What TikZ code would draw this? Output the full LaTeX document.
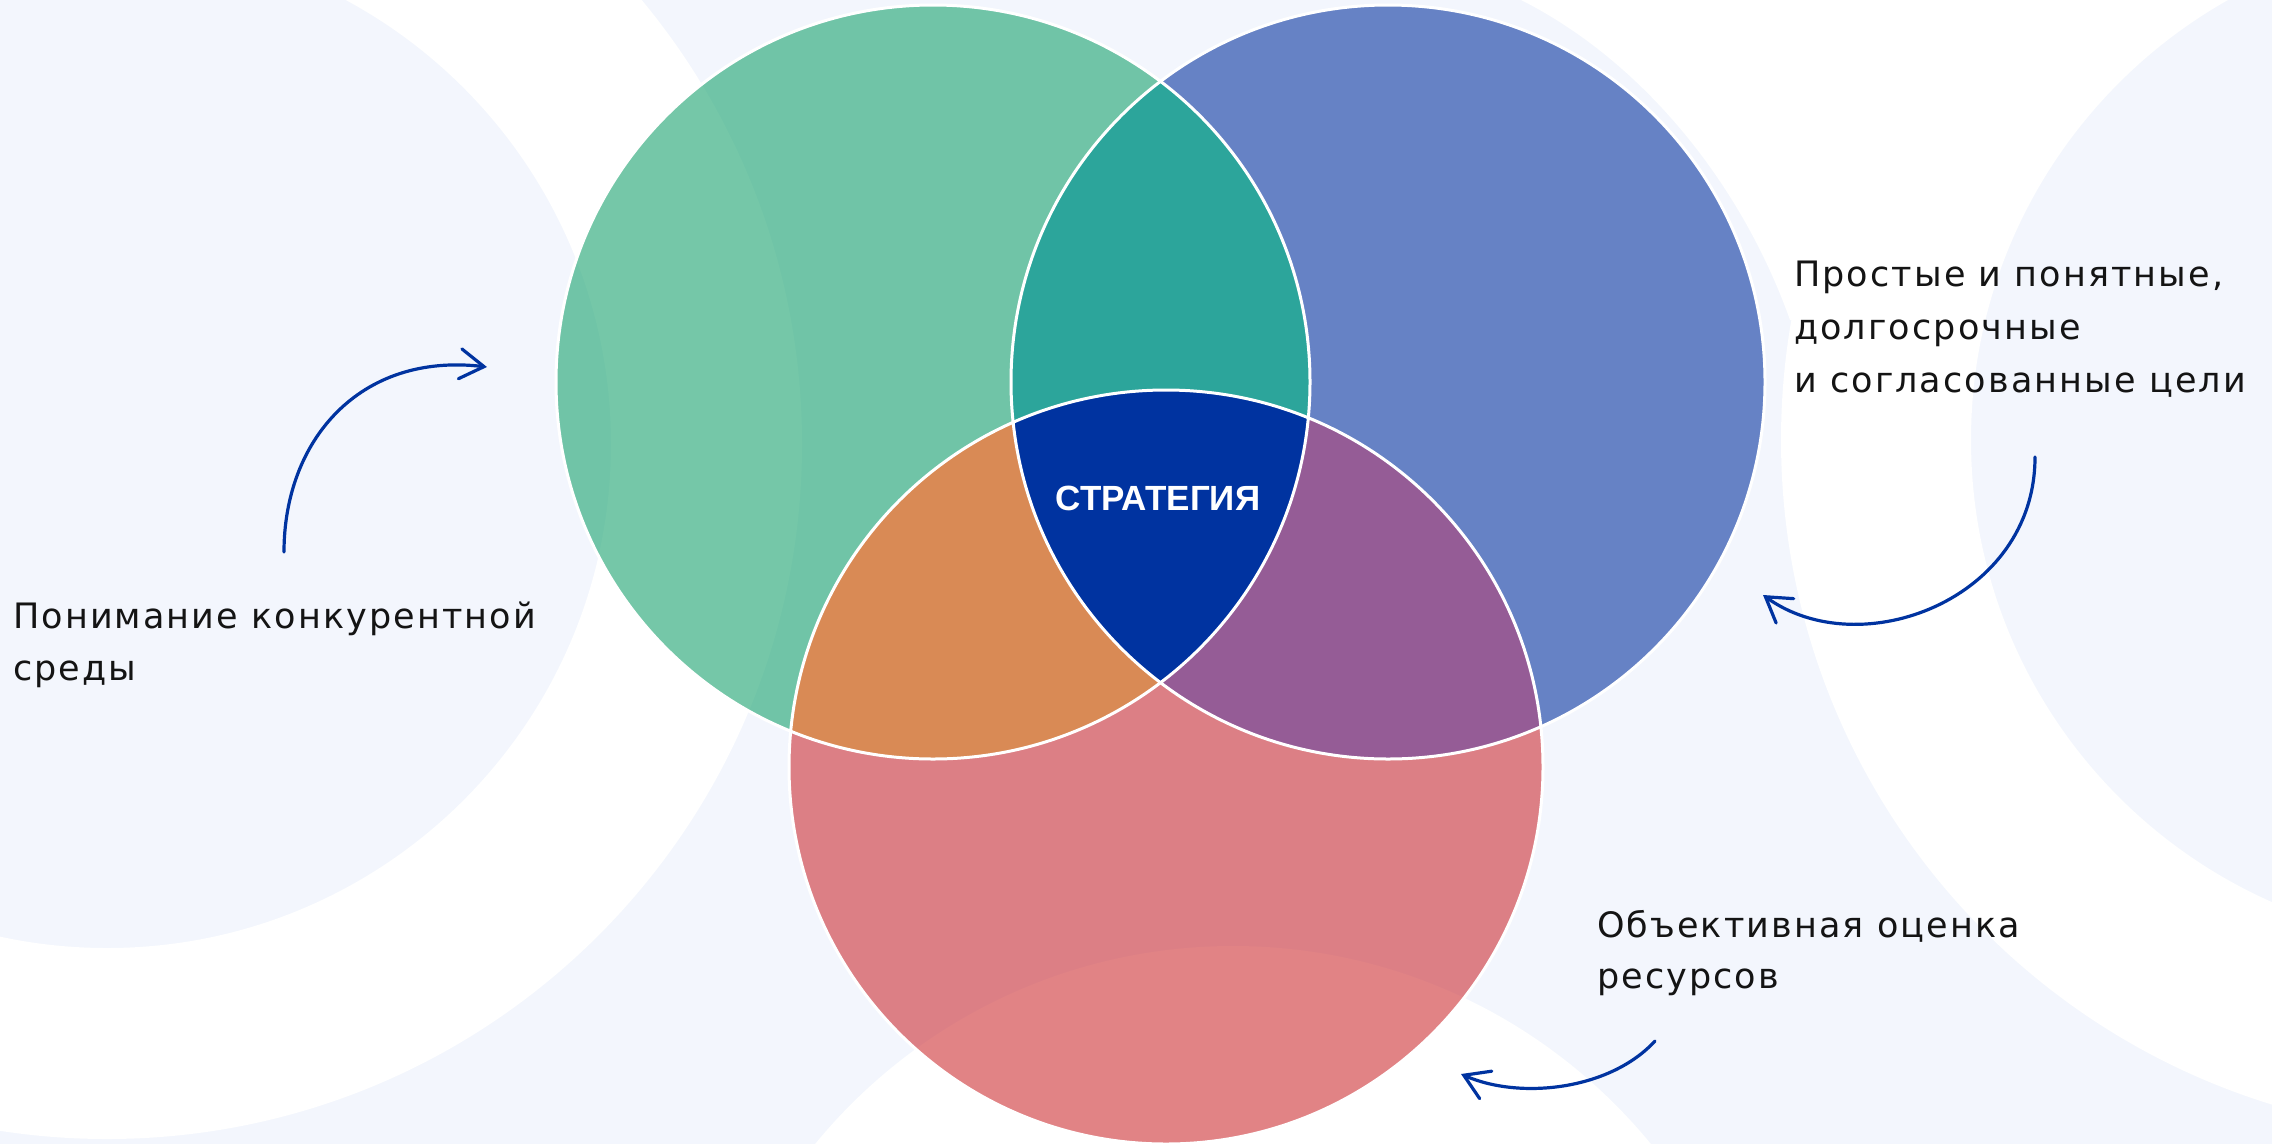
\documentclass[tikz,border=0pt]{standalone}
\usepackage{fontspec}
\setmainfont{Liberation Sans}
\newfontfamily\labelfont[LetterSpace=6]{DejaVu Sans}
\usetikzlibrary{arrows.meta}
\definecolor{pale}{HTML}{F3F6FD}
\definecolor{cgreen}{RGB}{26,163,111}
\definecolor{cblue}{RGB}{8,54,160}
\definecolor{cred}{RGB}{205,49,53}
\definecolor{cteal}{RGB}{44,165,155}
\definecolor{corange}{RGB}{217,138,85}
\definecolor{cpurple}{RGB}{149,92,150}
\definecolor{ccore}{HTML}{0033A0}
\definecolor{navy}{HTML}{0033A0}
\definecolor{ink}{HTML}{141414}
\begin{document}
\begin{tikzpicture}[x=1pt,y=-1pt,
  lbl/.style={anchor=base west, inner sep=0pt, text=ink, font=\labelfont\fontsize{35}{42}\selectfont},
  curvearrow/.style={draw=navy, line width=3.2pt, line cap=round, -{Straight Barb[length=24pt,width=30pt,line cap=round]}},
  vennline/.style={draw=white, line width=3pt},
  vennfill/.style={fill opacity=0.6}]
\useasboundingbox (0,0) rectangle (2272,1144);
\clip (0,0) rectangle (2272,1144);
% background
\fill[pale] (0,0) rectangle (2272,1144);
\fill[white, even odd rule] (107,444) circle (695) (107,444) circle (504);
\fill[white, even odd rule] (2476,440) circle (695) (2476,440) circle (505);
\fill[white] (1521,0) .. controls (1640,60) and (1740,180) .. (1790,320) -- (1900,320) -- (1960,0) -- cycle;
\fill[white] (1233,1486) circle (540);
% venn circles
\fill[cgreen, vennfill] (933,382) circle (377);
\fill[cblue, vennfill] (1388,382) circle (377);
\fill[cred, vennfill] (1166,767) circle (377);
\begin{scope}
  \clip (933,382) circle (377);
  \fill[cteal] (1388,382) circle (377);
  \fill[corange] (1166,767) circle (377);
\end{scope}
\begin{scope}
  \clip (1388,382) circle (377);
  \fill[cpurple] (1166,767) circle (377);
\end{scope}
\begin{scope}
  \clip (933,382) circle (377);
  \clip (1388,382) circle (377);
  \fill[ccore] (1166,767) circle (377);
\end{scope}
\draw[vennline] (933,382) circle (377);
\draw[vennline] (1388,382) circle (377);
\draw[vennline] (1166,767) circle (377);
% labels
\node[anchor=base, inner sep=0pt, text=white, font=\bfseries\fontsize{35}{42}\selectfont] (core) at (1158,510) {СТРАТЕГИЯ};
\node[lbl] (l1a) at (13,628) {Понимание конкурентной};
\node[lbl] (l1b) at (13,680) {среды};
\node[lbl] (l2a) at (1794,286) {Простые и понятные,};
\node[lbl] (l2b) at (1794,339) {долгосрочные};
\node[lbl] (l2c) at (1794,392) {и согласованные цели};
\node[lbl] (l3a) at (1597,937) {Объективная оценка};
\node[lbl] (l3b) at (1597,988) {ресурсов};
% arrows
\coordinate (aLs) at (284,552);
\coordinate (aLe) at (487,367);
\coordinate (aRs) at (2035,457);
\coordinate (aRe) at (1763,595);
\coordinate (aBs) at (1655,1041);
\coordinate (aBe) at (1461,1074);
\draw[curvearrow] (aLs) .. controls (284,440) and (360,352) .. (aLe);
\draw[curvearrow] (aRs) .. controls (2035,600) and (1860,665) .. (aRe);
\draw[curvearrow] (aBs) .. controls (1610,1090) and (1520,1100) .. (aBe);
\end{tikzpicture}
\end{document}
